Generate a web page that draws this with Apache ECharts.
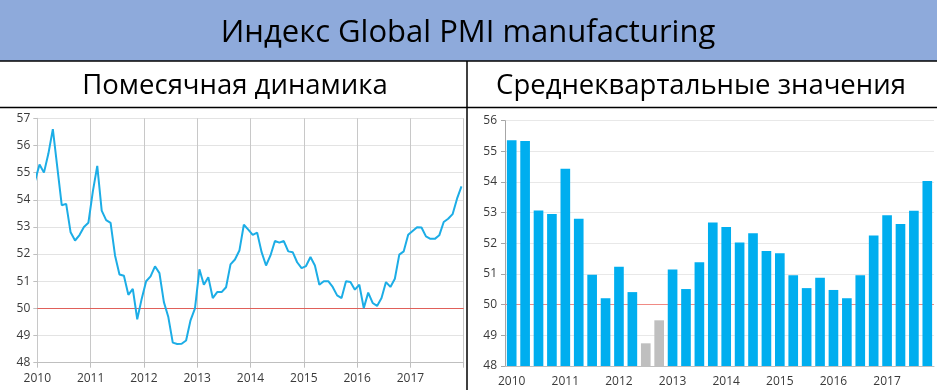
<!DOCTYPE html>
<html>
<head>
<meta charset="utf-8">
<script src="https://cdn.jsdelivr.net/npm/echarts@6/dist/echarts.min.js"></script>
<style>
html,body{margin:0;padding:0;background:#fff;}
#chart{width:937px;height:390px;}
</style>
</head>
<body>
<div id="chart"></div>
<script>
// ---- Data ----
var titleText = 'Индекс Global PMI manufacturing';
var leftSubtitle = 'Помесячная динамика';
var rightSubtitle = 'Среднеквартальные значения';

var yearLabels = ['2010','2011','2012','2013','2014','2015','2016','2017'];

// Monthly values, Dec 2009 .. Dec 2017 (first point lies before the axis start and is clipped)
var monthStart = '2009-12';
var monthlyPMI = [
  54.7,
  55.3, 55.0, 55.7, 56.6, 55.2, 53.8, 53.85, 52.8, 52.5, 52.7, 53.0, 53.15,
  54.3, 55.25, 53.6, 53.25, 53.15, 51.95, 51.25, 51.2, 50.5, 50.72, 49.6, 50.35,
  51.0, 51.18, 51.55, 51.3, 50.23, 49.68, 48.74, 48.69, 48.7, 48.82, 49.56, 50.0,
  51.44, 50.87, 51.15, 50.38, 50.6, 50.6, 50.78, 51.62, 51.8, 52.13, 53.08, 52.9,
  52.71, 52.79, 52.07, 51.58, 51.95, 52.48, 52.42, 52.48, 52.1, 52.07, 51.7, 51.48,
  51.56, 51.89, 51.58, 50.87, 51.0, 51.0, 50.79, 50.48, 50.38, 51.0, 50.97, 50.69,
  50.87, 50.01, 50.58, 50.2, 50.09, 50.38, 50.97, 50.79, 51.09, 51.98, 52.1, 52.71,
  52.85, 52.99, 52.98, 52.65, 52.56, 52.56, 52.69, 53.18, 53.3, 53.47, 54.04, 54.49
];

var quarters = [];
yearLabels.forEach(function (y) { ['Q1','Q2','Q3','Q4'].forEach(function (q) { quarters.push(y + ' ' + q); }); });
var quarterlyPMI = [
  55.36, 55.34, 53.07, 52.96,
  54.43, 52.80, 50.98, 50.21,
  51.24, 50.41, 48.74, 49.49,
  51.15, 50.51, 51.38, 52.68,
  52.53, 52.03, 52.33, 51.75,
  51.68, 50.96, 50.54, 50.88,
  50.48, 50.21, 50.96, 52.26,
  52.92, 52.63, 53.06, 54.03
];
var threshold = 50;

// month labels -> position in years (month centre)
var months = [];
(function () {
  var y = +monthStart.slice(0,4), m = +monthStart.slice(5,7);
  for (var i = 0; i < monthlyPMI.length; i++) {
    months.push(y + '-' + (m < 10 ? '0' + m : m));
    m++; if (m > 12) { m = 1; y++; }
  }
})();
function monthPos(s) { return +s.slice(0,4) + (+s.slice(5,7) - 0.5) / 12; }
var lineData = months.map(function (s, i) { return [monthPos(s), monthlyPMI[i]]; });

// ---- Chart ----
var chart = echarts.init(document.getElementById('chart'), null, {renderer: 'canvas'});
var FONT = 'Open Sans';
var labelColor = '#3a3a3a';

var option = {
  animation: false,
  backgroundColor: '#ffffff',
  graphic: [
    {type: 'rect', shape: {x: 0, y: 0, width: 937, height: 61}, style: {fill: '#8eaadb'}, z: 0},
    {type: 'line', shape: {x1: 0, y1: 61, x2: 937, y2: 61}, style: {stroke: '#000', lineWidth: 1.5}},
    {type: 'line', shape: {x1: 0, y1: 107.5, x2: 937, y2: 107.5}, style: {stroke: '#000', lineWidth: 1.5}},
    {type: 'line', shape: {x1: 467, y1: 61, x2: 467, y2: 390}, style: {stroke: '#000', lineWidth: 1.5}},
    {type: 'text', x: 468, y: 33, style: {text: titleText, fill: '#000', font: '31px "' + FONT + '"', textAlign: 'center', textVerticalAlign: 'middle'}},
    {type: 'text', x: 235, y: 86, style: {text: leftSubtitle, fill: '#000', font: '27.5px "' + FONT + '"', textAlign: 'center', textVerticalAlign: 'middle'}},
    {type: 'text', x: 701, y: 86, style: {text: rightSubtitle, fill: '#000', font: '27.5px "' + FONT + '"', textAlign: 'center', textVerticalAlign: 'middle'}}
  ],
  grid: [
    {left: 37.3, right: 473.3, top: 118.3, bottom: 27.3, containLabel: false},
    {left: 505, right: 3, top: 120.7, bottom: 24, containLabel: false}
  ],
  xAxis: [
    {
      type: 'value', gridIndex: 0, min: 2010, max: 2018, interval: 1,
      axisLine: {show: true, lineStyle: {color: '#bfbfbf'}},
      axisTick: {show: true, length: 5, lineStyle: {color: '#bfbfbf'}},
      axisLabel: {color: labelColor, fontFamily: FONT, fontSize: 12, margin: 10,
        formatter: function (v) { var i = v - 2010; return yearLabels[i] !== undefined ? yearLabels[i] : ''; }},
      splitLine: {show: true, lineStyle: {color: '#c8c8c8'}}
    },
    {
      type: 'category', gridIndex: 1, data: quarters, boundaryGap: true,
      axisLine: {show: true, lineStyle: {color: '#bfbfbf'}},
      axisTick: {show: false},
      axisLabel: {color: labelColor, fontFamily: FONT, fontSize: 12, margin: 10, interval: 3,
        formatter: function (v) { return v.slice(0,4); }},
      splitLine: {show: false}
    }
  ],
  yAxis: [
    {
      type: 'value', gridIndex: 0, min: 48, max: 57, interval: 1,
      axisLine: {show: true, lineStyle: {color: '#c8c8c8'}},
      axisTick: {show: true, length: 4, lineStyle: {color: '#bfbfbf'}},
      axisLabel: {color: labelColor, fontFamily: FONT, fontSize: 12, margin: 7},
      splitLine: {show: true, lineStyle: {color: '#e3e3e3'}}
    },
    {
      type: 'value', gridIndex: 1, min: 48, max: 56, interval: 1,
      axisLine: {show: true, lineStyle: {color: '#a6a6a6'}},
      axisTick: {show: true, length: 4, lineStyle: {color: '#a6a6a6'}},
      axisLabel: {color: labelColor, fontFamily: FONT, fontSize: 12, margin: 8},
      splitLine: {show: true, lineStyle: {color: '#e8e8e8'}}
    }
  ],
  series: [
    {
      type: 'line', xAxisIndex: 0, yAxisIndex: 0, data: lineData,
      showSymbol: false, symbol: 'none', clip: true, z: 3,
      lineStyle: {color: '#1cade6', width: 2},
      markLine: {silent: true, symbol: 'none', label: {show: false}, z: 1,
        lineStyle: {color: '#e0605a', width: 1, type: 'solid'}, data: [{yAxis: threshold}]}
    },
    {
      type: 'bar', xAxisIndex: 1, yAxisIndex: 1, data: quarterlyPMI,
      barCategoryGap: '28%', z: 3,
      itemStyle: {color: function (p) { return p.value < threshold ? '#bfbfbf' : '#00aeef'; }},
      markLine: {silent: true, symbol: 'none', label: {show: false}, z: 1,
        lineStyle: {color: '#f08a84', width: 1, type: 'solid'}, data: [{yAxis: threshold}]}
    }
  ]
};
chart.setOption(option);
</script>
</body>
</html>
